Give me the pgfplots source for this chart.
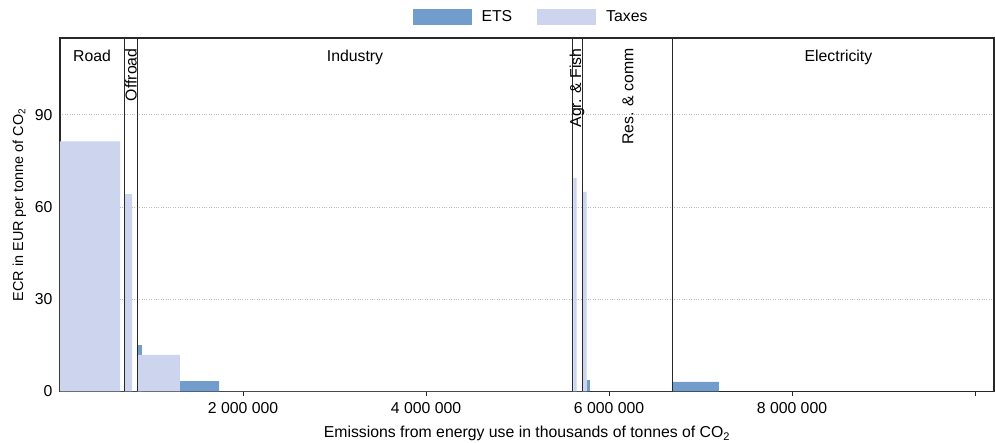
\documentclass[border=0pt]{standalone}
\usepackage{pgfplots}
\pgfplotsset{compat=1.18}
\usepackage{fontspec}
\setmainfont{Liberation Sans}

\definecolor{ets}{RGB}{114,156,204}
\definecolor{taxes}{RGB}{205,212,237}
\definecolor{axgray}{RGB}{40,40,40}

% x: emissions (thousands of tonnes), y: ECR in EUR per tonne
% const plot: each value holds until the next x
\pgfplotstableread{
x        y
0        0
845000   15.1
896000   0
1311000  3.4
1738000  0
5755000  3.7
5790000  0
6700000  3.1
7202000  0
}\etsdata

\pgfplotstableread{
x        y
0        81.4
656000   0
710000   64.2
787000   0
850000   11.9
1311000  0
5610000  69.5
5647000  0
5713000  64.9
5755000  0
}\taxdata

\begin{document}
\fontsize{15.8}{18}\selectfont
\begin{tikzpicture}
\path[use as bounding box] (-60pt,-51.5pt) rectangle (935pt,391.5pt);
\begin{axis}[
    at={(0pt,0pt)}, anchor=south west,
    scale only axis,
    width=934pt, height=353.5pt,
    xmin=0, xmax=10208000,
    ymin=0, ymax=115,
    scaled x ticks=false,
    axis line style={axgray, line width=1.1pt},
    xtick={2000000,4000000,6000000,8000000,10000000},
    xticklabels={2 000 000,4 000 000,6 000 000,8 000 000,{}},
    xtick pos=bottom, tick align=outside,
    major tick length=5pt,
    x tick style={axgray, line width=0.8pt},
    ytick={0,30,60,90},
    yticklabels={0,30,60,90},
    y tick style={draw=none},
    ymajorgrids,
    grid style={gray!55, dotted, line width=0.7pt},
    tick label style={font=\fontsize{15.8}{18}\selectfont, /pgf/number format/assume math mode=true},
    xticklabel style={yshift=-1pt},
    yticklabel style={xshift=3pt},
    xlabel={Emissions from energy use in thousands of tonnes of CO\textsubscript{2}},
    ylabel={ECR in EUR per tonne of CO\textsubscript{2}},
    xlabel style={font=\fontsize{15.8}{18}\selectfont, yshift=-1pt},
    ylabel style={font=\fontsize{14.4}{16}\selectfont, at={(ticklabel cs:0.528)}},
    ylabel shift=-2pt,
    legend style={at={(0.5,1)}, anchor=south, xshift=4pt, yshift=12pt,
        draw=none, fill=none, inner sep=0pt, legend columns=2,
        font=\fontsize{15.8}{18}\selectfont,
        /tikz/every odd column/.append style={column sep=8pt},
        /tikz/every even column/.append style={column sep=23pt}},
    legend cell align=left,
    legend image code/.code={\fill[#1] (0pt,-8pt) rectangle (59pt,8pt);},
    clip=false,
]
\addplot[const plot, draw=none, fill=ets] table[x=x, y=y] {\etsdata} \closedcycle;
\addlegendentry{ETS}
\addplot[const plot, draw=none, fill=taxes] table[x=x, y=y] {\taxdata} \closedcycle;
\addlegendentry{Taxes}

% sector boundaries
\addplot[axgray, line width=0.8pt, forget plot] coordinates {(703000,0) (703000,115)};
\addplot[axgray, line width=0.8pt, forget plot] coordinates {(845000,0) (845000,115)};
\addplot[axgray, line width=0.8pt, forget plot] coordinates {(5599000,0) (5599000,115)};
\addplot[axgray, line width=0.8pt, forget plot] coordinates {(5708000,0) (5708000,115)};
\addplot[axgray, line width=0.8pt, forget plot] coordinates {(6696000,0) (6696000,115)};

% sector names
\node[anchor=north, inner sep=0pt] at (axis cs:350000,111) {Road};
\node[anchor=north, inner sep=0pt] at (axis cs:3224000,111) {Industry};
\node[anchor=north, inner sep=0pt] at (axis cs:8508000,111) {Electricity};
\node[rotate=90, anchor=east, inner sep=0pt] at (axis cs:776000,111.6) {Offroad};
\node[rotate=90, anchor=east, inner sep=0pt] at (axis cs:5650000,111.6) {Agr. \& Fish};
\node[rotate=90, anchor=east, inner sep=0pt] at (axis cs:6208000,111.6) {Res. \& comm};
\end{axis}
\end{tikzpicture}
\end{document}
